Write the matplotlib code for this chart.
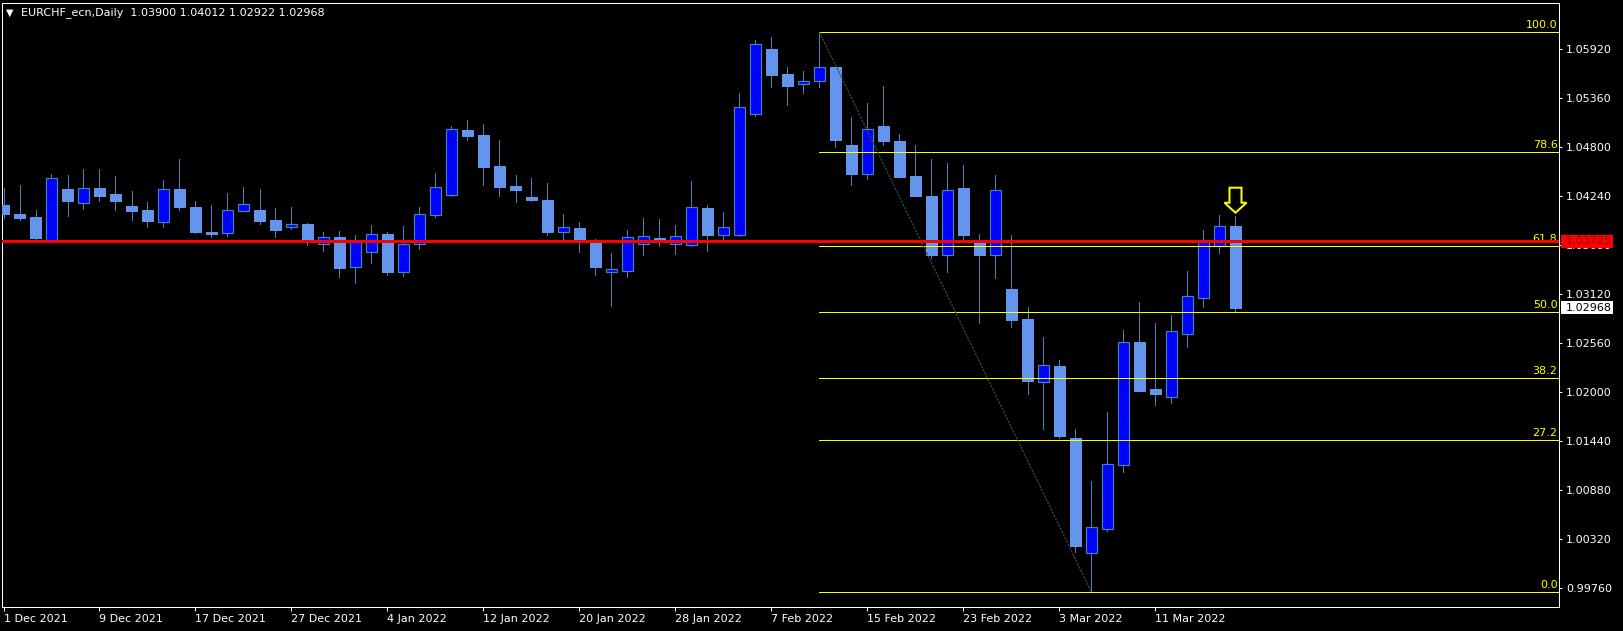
import numpy as np
import pandas as pd
import matplotlib
matplotlib.use("Agg")
import matplotlib.pyplot as plt
import matplotlib.transforms as mtransforms
from matplotlib.patches import Polygon, Rectangle

# === Data: EURCHF daily bars, 1 Dec 2021 .. 18 Mar 2022 ===
dates = pd.bdate_range("2021-12-01", "2022-03-18")

opens = [1.04140, 1.04037, 1.04003, 1.03729, 1.04323, 1.04166, 1.04334, 1.04266, 1.04129, 1.04083,
         1.03949, 1.04323, 1.04117, 1.03835, 1.03823, 1.04075, 1.04083, 1.03969, 1.03892, 1.03923,
         1.03698, 1.03774, 1.03428, 1.03600, 1.03805, 1.03378, 1.03698, 1.04029, 1.04258, 1.04997,
         1.04940, 1.04586, 1.04357, 1.04232, 1.04197, 1.03835, 1.03877, 1.03709, 1.03371, 1.03389,
         1.03698, 1.03763, 1.03698, 1.03686, 1.04106, 1.03801, 1.03801, 1.05184, 1.05923, 1.05637,
         1.05520, 1.05554, 1.05714, 1.04826, 1.04498, 1.05043, 1.04872, 1.04472, 1.04243, 1.03572,
         1.04334, 1.03729, 1.03572, 1.03180, 1.02837, 1.02121, 1.02300, 1.01474, 1.00159, 1.00434,
         1.01165, 1.02574, 1.02037, 1.01949, 1.02662, 1.03074, 1.03675, 1.03900]
highs = [1.04331, 1.04369, 1.04083, 1.04494, 1.04483, 1.04552, 1.04552, 1.04472, 1.04300, 1.04174,
         1.04426, 1.04666, 1.04186, 1.04140, 1.04277, 1.04346, 1.04323, 1.04106, 1.04117, 1.03934,
         1.03832, 1.03843, 1.03797, 1.03911, 1.03832, 1.03900, 1.04117, 1.04506, 1.05043, 1.05112,
         1.05066, 1.04883, 1.04483, 1.04449, 1.04392, 1.04037, 1.03946, 1.03752, 1.03592, 1.03854,
         1.03992, 1.03980, 1.03911, 1.04414, 1.04140, 1.04060, 1.05420, 1.06026, 1.06060, 1.05717,
         1.05672, 1.06114, 1.05717, 1.05146, 1.05306, 1.05500, 1.04952, 1.04826, 1.04666, 1.04620,
         1.04597, 1.03809, 1.04483, 1.03797, 1.02974, 1.02631, 1.02369, 1.01580, 1.00986, 1.01771,
         1.02711, 1.03031, 1.02791, 1.02883, 1.03386, 1.03854, 1.04026, 1.04012]
lows = [1.03995, 1.03972, 1.03740, 1.03717, 1.04014, 1.04094, 1.04186, 1.04083, 1.03969, 1.03889,
        1.03889, 1.04083, 1.03820, 1.03774, 1.03789, 1.04072, 1.03923, 1.03774, 1.03866, 1.03683,
        1.03618, 1.03321, 1.03252, 1.03481, 1.03343, 1.03332, 1.03641, 1.04006, 1.04246, 1.04886,
        1.04372, 1.04246, 1.04178, 1.04189, 1.03801, 1.03740, 1.03606, 1.03343, 1.02989, 1.03321,
        1.03572, 1.03675, 1.03583, 1.03675, 1.03618, 1.03755, 1.03789, 1.05161, 1.05492, 1.05286,
        1.05424, 1.05492, 1.04806, 1.04372, 1.04441, 1.04826, 1.04460, 1.04240, 1.03538, 1.03378,
        1.03740, 1.02788, 1.03309, 1.02749, 1.01980, 1.01580, 1.01481, 1.00178, 0.99714, 1.00420,
        1.01092, 1.02010, 1.01854, 1.01881, 1.02521, 1.02971, 1.03595, 1.02922]
closes = [1.04041, 1.03995, 1.03763, 1.04445, 1.04186, 1.04331, 1.04243, 1.04186, 1.04072, 1.03957,
          1.04320, 1.04117, 1.03832, 1.03812, 1.04083, 1.04152, 1.03957, 1.03854, 1.03923, 1.03717,
          1.03771, 1.03423, 1.03729, 1.03805, 1.03378, 1.03691, 1.04034, 1.04342, 1.05005, 1.04932,
          1.04578, 1.04349, 1.04315, 1.04197, 1.03835, 1.03885, 1.03729, 1.03435, 1.03405, 1.03771,
          1.03782, 1.03740, 1.03782, 1.04114, 1.03801, 1.03885, 1.05257, 1.05977, 1.05629, 1.05504,
          1.05554, 1.05714, 1.04886, 1.04498, 1.05005, 1.04875, 1.04464, 1.04246, 1.03569, 1.04308,
          1.03801, 1.03569, 1.04308, 1.02826, 1.02132, 1.02308, 1.01503, 1.00246, 1.00457, 1.01177,
          1.02571, 1.02018, 1.01983, 1.02697, 1.03100, 1.03729, 1.03897, 1.02968]

# fibo retracement drawn from the 10 Feb high to the 4 Mar low
fib_high = 1.06114
fib_low = 0.99714
fib_from_bar = 51
fib_to_bar = 68
fib_levels = [0.0, 27.2, 38.2, 50.0, 61.8, 78.6, 100.0]

red_level = 1.03725
last_price = 1.02968
price_ticks = [0.99760, 1.00320, 1.00880, 1.01440, 1.02000, 1.02560,
               1.03120, 1.03680, 1.04240, 1.04800, 1.05360, 1.05920]
label_every = 6
title = "EURCHF_ecn,Daily  1.03900 1.04012 1.02922 1.02968"

# === Layout (pixels) ===
W, H = 1623, 631
ax_l, ax_r, ax_t, ax_b = 2, 1559, 2.7, 607
bar_px = 16.0
ymin, ymax = 0.99546, 1.06452
PX = 1 / 100 * 72  # one pixel in points

fig = plt.figure(figsize=(W / 100, H / 100), dpi=100, facecolor="black")
ax = fig.add_axes([ax_l / W, (H - ax_b) / H, (ax_r - ax_l) / W, (ax_b - ax_t) / H])
ax.set_facecolor("black")
x0 = (ax_l - 3.5) / bar_px
ax.set_xlim(x0, x0 + (ax_r - ax_l) / bar_px)
ax.set_ylim(ymin, ymax)
px_y = (ymax - ymin) / (ax_b - ax_t)
px_x = 1 / bar_px

o = np.array(opens); h = np.array(highs); l = np.array(lows); c = np.array(closes)
idx = np.arange(len(o))
up = c >= o

# wicks
ax.vlines(idx, l, h, color="#4682B4", lw=PX, zorder=2, antialiased=False)
# bodies
bottom = np.minimum(o, c)
height = np.maximum(np.abs(c - o), px_y)
ax.bar(idx[up], height[up], bottom=bottom[up], width=0.69, color="#0000FF",
       edgecolor="#4682B4", linewidth=PX * 1.2, zorder=3)
ax.bar(idx[~up], height[~up], bottom=bottom[~up], width=0.69, color="#6495ED",
       edgecolor="#6495ED", linewidth=PX, zorder=3)

# fibo lines + labels
xr = ax.get_xlim()[1]
for lev in fib_levels:
    p = fib_low + (fib_high - fib_low) * lev / 100
    ax.plot([fib_from_bar, xr], [p, p], color="#FFFF00", lw=PX, zorder=4,
            solid_capstyle="butt", antialiased=False)
    ax.text(xr - 1.5 * px_x, p + 2 * px_y, f"{lev:.1f}", color="#FFFF00", fontsize=8,
            ha="right", va="bottom", zorder=4)
ax.plot([fib_from_bar, fib_to_bar], [fib_high, fib_low], color="#2F4F4F",
        lw=PX * 1.2, ls=(0, (2, 1)), zorder=4)

# red horizontal level
ax.axhline(red_level, color="#FF0000", lw=PX * 3, zorder=5, antialiased=False)

# yellow hollow arrow above the last bar
k = len(o) - 1
tip = h[k] + 3.5 * px_y
arrow = [(k - 6 * px_x, tip + 25 * px_y), (k + 6 * px_x, tip + 25 * px_y),
         (k + 6 * px_x, tip + 10 * px_y), (k + 11 * px_x, tip + 10 * px_y),
         (k, tip), (k - 11 * px_x, tip + 10 * px_y), (k - 6 * px_x, tip + 10 * px_y)]
ax.add_patch(Polygon(arrow, closed=True, facecolor="black", edgecolor="#FFFF00",
                     lw=PX * 2, zorder=6))

# spines / axes
for s in ax.spines.values():
    s.set_color("white")
    s.set_linewidth(PX)
ax.yaxis.tick_right()
ax.set_yticks(price_ticks)
ax.set_yticklabels([f"{v:.5f}" for v in price_ticks])
ax.tick_params(axis="y", colors="white", labelsize=8, length=3 * PX, width=PX, pad=3)
ticks = idx[::label_every]
ax.set_xticks(ticks)
ax.set_xticklabels([f"{d.day} {d:%b %Y}" for d in dates[ticks]], ha="left")
ax.tick_params(axis="x", colors="white", labelsize=8, length=4 * PX, width=PX, pad=2)

# price boxes on the right scale
bt = mtransforms.blended_transform_factory(fig.transFigure, ax.transData)
for price, bg, fg in [(red_level, "#FF0000", "#8B0000"), (last_price, "white", "black")]:
    ax.add_patch(Rectangle((1561 / W, price - 6.5 * px_y), 52 / W, 13 * px_y,
                           transform=bt, facecolor=bg, edgecolor="none",
                           clip_on=False, zorder=10))
    ax.text(1566 / W, price, f"{price:.5f}", transform=bt, color=fg, fontsize=8,
            va="center", ha="left", clip_on=False, zorder=11)

# header
fig.text(21 / W, 1 - 12.7 / H, title, color="white", fontsize=8, va="center")
fig.text(6 / W, 1 - 12.5 / H, "\u25bc", color="white", fontsize=7, va="center")

fig.savefig("out.png", dpi=100, facecolor="black")
